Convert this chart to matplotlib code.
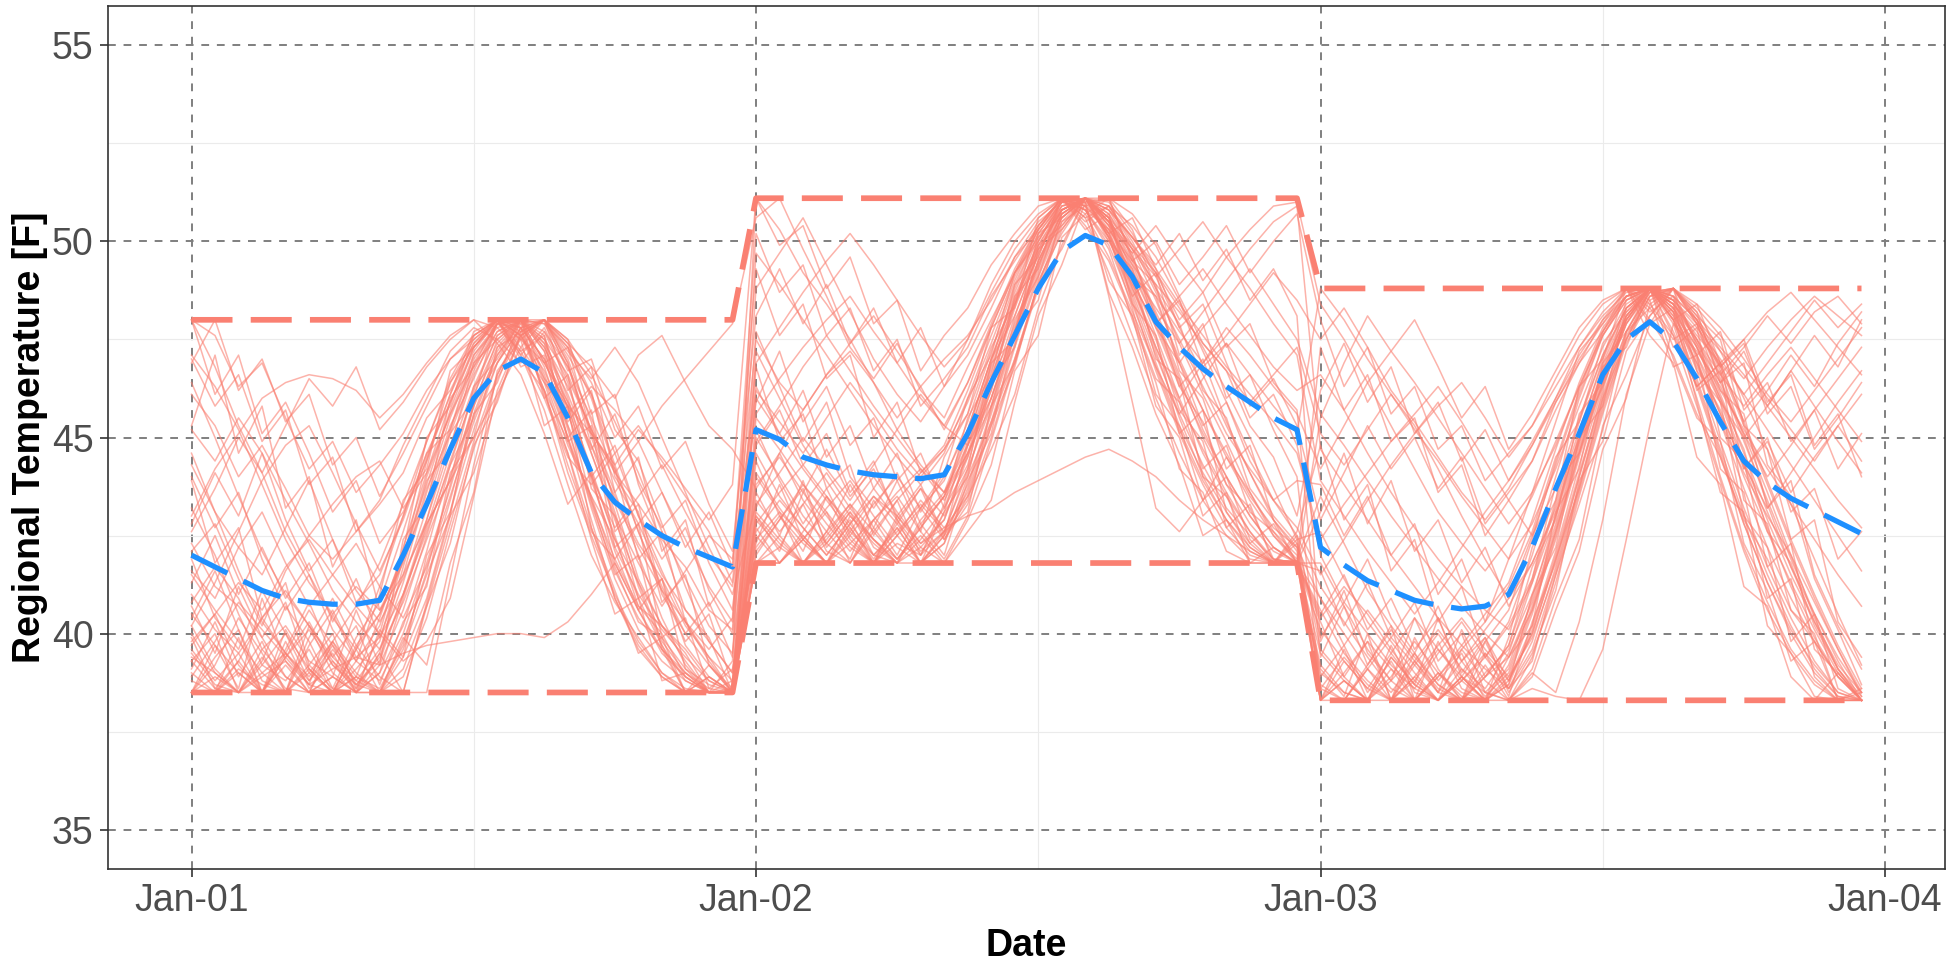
import matplotlib

matplotlib.use("Agg")
import matplotlib.pyplot as plt
import matplotlib.dates as mdates
from matplotlib.ticker import FixedLocator
import numpy as np
import pandas as pd

plt.rcParams["font.family"] = ["Liberation Sans", "DejaVu Sans"]

SALMON = "#FA8072"
BLUE = "#1E90FF"

# ---- hourly forecast window ------------------------------------------------
START = "2021-01-01 00:00"
N_HOURS = 72

# daily envelope of the ensemble (F)
DAY_MAX = [48.0, 51.1, 48.8]
DAY_MIN = [38.5, 41.8, 38.3]

# ensemble mean, hourly (F)
ENS_MEAN = [
    42.0, 41.7, 41.4, 41.1, 40.9, 40.8, 40.75, 40.75, 40.85, 42.0, 43.3, 44.7,
    46.0, 46.7, 47.0, 46.65, 45.5, 44.1, 43.35, 42.9, 42.5, 42.2, 41.95, 41.7,
    45.2, 44.95, 44.5, 44.3, 44.15, 44.05, 44.0, 43.95, 44.05, 45.1, 46.4, 47.6,
    48.8, 49.75, 50.15, 49.9, 49.1, 47.95, 47.3, 46.75, 46.3, 45.9, 45.5, 45.2,
    42.2, 41.75, 41.35, 41.1, 40.85, 40.72, 40.63, 40.7, 41.0, 42.2, 43.7, 45.1,
    46.6, 47.5, 47.95, 47.45, 46.5, 45.4, 44.4, 43.85, 43.45, 43.15, 42.85, 42.55,
]

# ensemble members, one 24-hour block per day
DAY1_MEMBERS = [
    [40.2, 39.1, 38.5, 39.6, 38.9, 38.5, 39.8, 38.7, 39.3, 41.0, 42.9, 44.8, 46.6, 47.7, 48.0, 47.2, 45.6, 44.0, 42.1, 40.6, 39.5, 38.9, 38.5, 38.5],
    [38.5, 39.4, 40.1, 38.8, 38.5, 39.2, 38.6, 39.9, 40.8, 42.6, 44.5, 46.1, 47.4, 48.0, 47.6, 46.2, 44.1, 42.5, 41.0, 39.8, 39.0, 38.6, 38.5, 38.8],
    [41.5, 40.6, 39.8, 39.0, 39.5, 38.7, 38.5, 38.9, 38.6, 39.7, 41.6, 43.8, 45.9, 47.3, 48.0, 47.9, 46.8, 45.1, 43.6, 42.0, 40.4, 39.2, 38.5, 38.5],
    [43.2, 42.0, 40.5, 39.2, 38.8, 39.6, 38.5, 39.1, 39.8, 41.9, 44.0, 45.6, 47.1, 47.9, 47.5, 46.9, 45.8, 43.9, 42.2, 41.0, 40.1, 39.4, 38.8, 38.5],
    [39.0, 38.5, 39.3, 40.4, 39.5, 38.8, 39.5, 38.5, 39.0, 40.2, 42.1, 44.3, 46.2, 47.6, 48.0, 46.5, 44.8, 43.5, 41.7, 40.3, 39.9, 39.1, 38.7, 38.5],
    [40.8, 41.7, 40.9, 39.6, 40.2, 39.3, 38.9, 38.5, 38.5, 39.4, 40.9, 43.1, 45.2, 46.9, 47.8, 48.0, 47.0, 45.4, 43.3, 41.4, 40.2, 39.3, 38.5, 38.5],
    [38.5, 38.9, 38.5, 39.2, 40.0, 39.1, 38.5, 39.6, 41.2, 43.0, 44.9, 46.5, 47.6, 48.0, 47.1, 45.7, 43.8, 42.0, 40.8, 39.9, 39.0, 38.5, 38.9, 38.5],
    [44.6, 43.1, 41.6, 40.3, 39.5, 38.9, 39.8, 39.0, 38.5, 39.1, 40.7, 42.8, 44.9, 46.6, 47.7, 48.0, 47.3, 46.0, 44.2, 42.6, 41.2, 40.0, 39.2, 38.6],
    [39.7, 40.5, 39.2, 38.5, 38.5, 39.7, 40.6, 39.4, 39.9, 41.5, 43.6, 45.5, 47.0, 47.9, 48.0, 47.4, 45.3, 43.2, 41.4, 40.1, 39.3, 38.8, 38.5, 38.5],
    [42.3, 41.2, 40.7, 39.9, 38.9, 38.5, 38.5, 39.3, 38.8, 40.0, 41.8, 43.7, 45.8, 47.5, 48.0, 47.7, 46.4, 44.6, 42.9, 41.3, 39.8, 39.0, 38.5, 38.6],
    [38.9, 39.8, 40.8, 40.1, 39.4, 40.3, 39.2, 38.6, 40.0, 42.2, 44.1, 45.9, 47.3, 48.0, 47.8, 47.0, 45.9, 44.8, 43.5, 42.3, 41.4, 40.2, 39.4, 38.8],
    [40.0, 39.0, 38.5, 38.5, 39.5, 40.6, 39.7, 38.9, 38.5, 39.6, 41.3, 43.4, 45.6, 47.2, 48.0, 47.6, 45.7, 43.4, 41.9, 40.7, 40.2, 39.5, 38.5, 38.5],
    [46.4, 45.0, 43.5, 42.1, 41.0, 40.2, 39.3, 38.7, 39.4, 41.0, 42.7, 44.6, 46.3, 47.6, 48.0, 47.5, 46.6, 45.2, 43.9, 42.8, 41.5, 40.6, 39.8, 39.0],
    [38.5, 38.5, 39.1, 38.7, 38.5, 39.0, 39.8, 40.7, 41.8, 43.3, 44.9, 46.4, 47.5, 48.0, 47.9, 46.8, 45.0, 42.9, 40.9, 39.6, 38.9, 38.5, 38.5, 38.5],
    [41.0, 40.1, 39.5, 40.4, 41.1, 40.2, 39.4, 38.8, 38.5, 38.9, 40.4, 42.6, 44.7, 46.5, 47.6, 48.0, 47.4, 46.1, 44.6, 43.0, 41.6, 40.3, 39.3, 38.5],
    [39.3, 38.6, 38.5, 39.4, 38.6, 38.5, 38.9, 38.5, 39.2, 40.6, 42.5, 44.4, 46.1, 47.4, 48.0, 47.3, 45.9, 44.2, 42.4, 40.9, 39.7, 38.8, 38.5, 38.5],
    [39.4, 39.0, 38.5, 38.9, 39.3, 38.7, 39.1, 39.4, 39.2, 39.5, 39.7, 39.8, 39.9, 40.0, 40.0, 39.9, 40.3, 41.0, 41.8, 40.6, 39.6, 39.0, 38.6, 38.5],
    [40.5, 39.7, 39.0, 38.5, 39.4, 40.1, 39.2, 38.7, 38.5, 38.5, 38.5, 41.4, 44.3, 46.6, 47.8, 47.0, 45.2, 43.3, 41.6, 40.4, 39.6, 38.9, 38.5, 38.5],
    [39.6, 38.8, 39.5, 38.5, 39.2, 38.5, 39.6, 38.8, 39.6, 41.3, 43.2, 45.2, 46.9, 47.9, 47.8, 46.4, 44.6, 42.7, 40.9, 39.7, 38.9, 38.5, 38.5, 38.5],
    [48.0, 47.6, 46.3, 46.9, 45.5, 44.2, 44.9, 43.6, 44.3, 45.1, 46.2, 47.0, 47.5, 48.0, 47.3, 46.4, 45.6, 46.3, 45.7, 44.9, 45.8, 46.5, 47.2, 47.9],
    [46.1, 45.3, 44.0, 44.8, 43.7, 42.5, 41.9, 42.6, 43.4, 44.8, 46.0, 47.2, 47.8, 47.5, 46.9, 47.7, 46.8, 45.5, 44.1, 43.3, 42.4, 41.7, 40.6, 40.1],
    [43.0, 44.2, 45.1, 46.0, 46.4, 46.6, 46.5, 46.2, 45.5, 46.1, 46.9, 47.6, 48.0, 47.8, 47.2, 46.0, 44.5, 43.8, 44.6, 45.3, 44.4, 43.5, 42.6, 41.3],
    [40.2, 41.3, 42.6, 43.9, 44.8, 45.3, 44.1, 42.8, 41.6, 42.9, 44.6, 45.9, 47.2, 48.0, 47.6, 46.7, 45.3, 44.0, 42.7, 43.5, 44.3, 43.1, 42.0, 41.2],
    [47.1, 46.3, 45.2, 43.8, 42.4, 41.3, 40.5, 41.2, 40.6, 41.5, 42.8, 43.9, 45.0, 46.1, 47.3, 48.0, 47.4, 46.8, 46.0, 47.1, 47.6, 46.4, 45.3, 44.7],
    [44.3, 43.1, 42.2, 41.5, 42.7, 43.9, 42.4, 41.1, 40.3, 41.4, 42.9, 45.1, 46.7, 47.9, 48.0, 46.9, 45.8, 45.1, 44.3, 45.2, 44.5, 43.7, 42.9, 43.8],
    [42.1, 42.8, 41.4, 40.2, 41.6, 42.5, 43.3, 44.0, 44.4, 43.2, 44.1, 45.6, 46.8, 47.7, 48.0, 47.3, 46.1, 44.6, 43.0, 41.8, 40.7, 41.6, 42.5, 41.9],
    [45.2, 44.4, 45.5, 44.6, 43.4, 42.3, 41.1, 40.3, 39.6, 40.8, 42.4, 44.0, 45.8, 47.1, 47.9, 48.0, 47.5, 46.6, 45.4, 44.1, 42.6, 41.4, 40.2, 39.5],
    [41.6, 40.9, 42.2, 43.1, 41.8, 40.7, 41.5, 42.3, 41.2, 40.4, 41.7, 43.5, 45.4, 46.9, 47.8, 48.0, 46.9, 45.0, 43.4, 42.2, 41.1, 40.3, 39.6, 40.4],
    [48.0, 46.8, 45.3, 44.1, 42.6, 41.5, 40.4, 39.6, 40.5, 42.0, 43.8, 45.7, 47.3, 48.0, 47.7, 46.2, 44.3, 42.6, 41.9, 42.8, 43.6, 42.4, 41.2, 40.3],
    [39.8, 40.5, 41.3, 40.6, 41.7, 42.4, 41.5, 40.7, 40.0, 39.3, 39.8, 40.9, 43.5, 46.2, 47.6, 48.0, 47.2, 46.5, 47.3, 46.4, 45.0, 43.6, 42.2, 41.0],
    [39.1, 40.3, 38.9, 39.8, 38.5, 40.2, 39.0, 38.5, 40.1, 39.4, 42.0, 43.1, 45.6, 46.4, 48.0, 46.9, 47.3, 45.1, 44.2, 41.9, 42.6, 40.3, 39.4, 38.5],
    [43.9, 41.8, 42.7, 40.4, 41.3, 39.2, 40.0, 38.6, 39.5, 38.5, 40.7, 42.3, 44.8, 45.9, 47.7, 48.0, 46.2, 46.8, 44.0, 43.1, 40.8, 41.5, 39.2, 38.5],
    [38.5, 39.7, 38.6, 40.9, 39.3, 38.5, 38.9, 40.6, 39.2, 42.4, 43.3, 46.0, 46.8, 48.0, 47.2, 47.6, 44.9, 45.3, 42.2, 42.8, 39.9, 40.4, 38.6, 39.1],
    [45.3, 47.1, 44.6, 45.8, 43.2, 44.0, 41.7, 42.9, 40.6, 41.8, 43.9, 44.7, 46.9, 47.5, 48.0, 47.2, 45.4, 46.2, 43.6, 44.5, 42.1, 42.9, 40.7, 41.6],
    [40.7, 39.5, 41.2, 39.9, 40.8, 39.1, 38.5, 39.6, 38.5, 39.9, 39.2, 41.8, 43.6, 46.7, 47.5, 48.0, 47.1, 46.1, 44.3, 42.6, 41.1, 39.8, 40.5, 38.7],
    [38.8, 38.5, 39.9, 38.5, 39.4, 38.7, 40.5, 39.3, 41.0, 43.4, 44.2, 46.7, 47.3, 47.9, 48.0, 46.0, 46.6, 43.7, 43.0, 40.9, 41.4, 39.1, 38.5, 38.5],
    [42.8, 44.1, 43.0, 44.6, 42.9, 41.6, 42.4, 40.8, 41.5, 43.0, 44.6, 45.2, 47.1, 47.8, 48.0, 47.4, 46.3, 44.7, 45.6, 43.9, 42.7, 43.4, 41.8, 40.6],
    [39.5, 38.7, 38.5, 39.3, 40.7, 39.8, 38.6, 38.5, 39.0, 40.9, 42.8, 43.9, 46.3, 47.0, 48.0, 48.0, 46.9, 44.8, 43.1, 41.2, 39.7, 38.5, 38.9, 38.5],
    [47.0, 45.8, 46.6, 44.9, 45.7, 43.8, 44.5, 42.6, 43.3, 44.1, 45.5, 46.2, 47.4, 48.0, 47.1, 47.8, 46.5, 45.2, 44.1, 44.9, 43.6, 42.2, 43.1, 41.7],
    [41.9, 40.4, 39.6, 41.1, 40.0, 38.8, 39.7, 38.5, 38.5, 39.8, 41.5, 43.0, 44.1, 46.0, 47.6, 48.0, 47.5, 45.6, 46.1, 43.8, 42.3, 40.6, 39.9, 38.5],
    [38.5, 39.2, 40.4, 39.5, 38.5, 39.1, 38.5, 38.9, 40.4, 42.1, 45.0, 45.8, 47.6, 48.0, 46.8, 47.1, 45.0, 43.4, 41.5, 42.0, 39.6, 38.5, 39.2, 38.5],
    [44.0, 42.7, 43.6, 41.9, 40.6, 41.5, 40.1, 39.3, 40.2, 41.9, 43.4, 45.3, 46.5, 47.9, 48.0, 46.6, 45.0, 45.7, 42.6, 43.3, 41.0, 40.0, 40.8, 39.4],
    [40.4, 41.6, 40.1, 38.5, 39.6, 40.8, 39.4, 40.2, 38.7, 40.3, 41.2, 44.1, 45.0, 47.3, 47.7, 48.0, 46.7, 47.0, 45.2, 44.4, 42.8, 41.2, 39.8, 39.0],
    [46.9, 48.0, 46.2, 47.0, 45.4, 46.1, 44.3, 45.0, 43.5, 44.6, 45.8, 47.0, 47.6, 48.0, 47.0, 46.2, 44.9, 43.5, 42.4, 41.3, 40.2, 39.6, 38.8, 38.5],
    [39.9, 38.6, 39.3, 38.5, 40.1, 39.0, 38.5, 39.7, 38.9, 38.5, 40.8, 43.0, 45.9, 46.9, 48.0, 47.5, 46.0, 44.1, 42.5, 40.7, 40.0, 38.9, 38.5, 39.3],
    [42.6, 43.7, 45.0, 44.1, 45.3, 46.5, 45.8, 46.8, 45.2, 45.9, 46.8, 47.5, 48.0, 47.4, 46.6, 45.1, 43.3, 44.1, 41.8, 40.6, 41.4, 39.7, 38.9, 38.5],
    [38.5, 38.5, 39.0, 38.5, 39.8, 38.6, 39.3, 38.5, 39.5, 41.7, 43.7, 45.1, 46.0, 48.0, 47.5, 45.3, 45.8, 42.7, 41.1, 39.5, 39.9, 38.5, 38.5, 38.5],
    [41.3, 42.5, 41.0, 42.2, 40.9, 41.8, 40.3, 41.4, 39.9, 41.0, 42.6, 44.3, 45.5, 47.1, 48.0, 47.9, 47.3, 46.4, 45.0, 45.8, 44.2, 44.9, 43.3, 42.1],
    [39.3, 40.0, 38.5, 39.0, 38.5, 39.9, 40.9, 39.7, 40.5, 41.9, 44.4, 46.1, 47.7, 48.0, 47.8, 46.1, 44.6, 42.4, 40.5, 40.9, 38.8, 39.0, 38.5, 38.5],
    [48.0, 46.1, 47.1, 45.1, 45.9, 44.6, 43.1, 43.9, 42.3, 43.1, 44.4, 46.4, 47.3, 48.0, 47.6, 46.5, 45.8, 44.0, 44.8, 43.0, 41.9, 42.7, 41.1, 40.0],
]

DAY2_MEMBERS = [
    [43.1, 42.4, 41.8, 42.6, 43.3, 42.2, 41.8, 42.9, 43.6, 45.2, 47.0, 48.6, 49.9, 50.8, 51.1, 50.3, 48.7, 47.1, 45.6, 44.3, 43.2, 42.5, 41.9, 41.8],
    [44.6, 43.5, 42.7, 42.0, 42.8, 43.7, 42.9, 42.1, 42.6, 44.1, 46.0, 47.9, 49.5, 50.7, 51.1, 50.6, 49.4, 48.0, 46.5, 45.0, 43.8, 42.8, 42.1, 41.8],
    [42.0, 42.9, 43.8, 43.1, 42.3, 41.8, 42.5, 43.4, 42.7, 43.5, 45.3, 47.3, 49.1, 50.5, 51.1, 50.9, 50.0, 48.8, 47.4, 46.1, 44.9, 43.6, 42.6, 42.0],
    [46.3, 45.1, 44.2, 43.4, 42.6, 42.0, 41.8, 42.4, 43.2, 44.8, 46.7, 48.5, 50.0, 51.0, 50.8, 49.9, 48.4, 46.8, 45.2, 43.9, 42.9, 42.2, 41.8, 41.8],
    [42.5, 41.8, 42.4, 43.2, 43.9, 43.0, 42.2, 41.8, 42.3, 43.7, 45.6, 47.6, 49.3, 50.6, 51.1, 50.7, 49.6, 48.2, 46.9, 45.7, 44.6, 43.5, 42.7, 42.2],
    [43.8, 44.5, 43.6, 42.8, 42.1, 42.9, 43.5, 42.6, 41.9, 43.0, 44.9, 46.9, 48.8, 50.3, 51.1, 51.0, 50.2, 49.1, 47.8, 46.6, 45.3, 44.1, 43.0, 42.3],
    [45.0, 44.0, 43.0, 42.3, 41.8, 42.6, 43.4, 44.1, 44.8, 46.2, 47.8, 49.2, 50.3, 51.1, 50.6, 49.2, 47.6, 46.0, 44.6, 43.4, 42.5, 41.9, 41.8, 42.4],
    [42.8, 43.6, 44.3, 43.5, 42.7, 41.9, 42.8, 43.7, 43.0, 44.2, 45.8, 47.7, 49.4, 50.7, 51.1, 50.4, 48.9, 47.3, 45.9, 44.7, 43.6, 42.6, 41.8, 41.8],
    [41.8, 42.5, 41.8, 42.3, 43.1, 42.4, 41.8, 42.2, 42.9, 44.6, 46.5, 48.4, 49.9, 50.9, 51.1, 50.5, 49.0, 47.2, 45.5, 44.0, 42.9, 42.1, 41.8, 41.8],
    [44.1, 43.2, 42.4, 41.8, 42.5, 43.3, 44.0, 43.2, 42.4, 43.3, 45.0, 47.0, 48.9, 50.4, 51.1, 50.8, 49.8, 48.5, 47.0, 45.7, 44.5, 43.4, 42.5, 41.9],
    [47.2, 46.0, 44.8, 43.9, 43.0, 42.4, 41.9, 42.7, 43.5, 45.0, 46.8, 48.5, 49.8, 50.8, 51.1, 50.5, 49.3, 47.9, 46.4, 45.1, 44.0, 43.0, 42.2, 41.8],
    [43.4, 42.6, 43.3, 44.1, 43.2, 42.4, 41.8, 41.8, 42.5, 43.8, 45.7, 47.7, 49.5, 50.8, 51.1, 50.2, 48.6, 46.9, 45.3, 44.1, 43.1, 42.3, 41.8, 41.8],
    [42.2, 43.0, 42.3, 41.8, 42.6, 43.5, 42.8, 42.0, 43.1, 44.9, 46.9, 48.8, 50.2, 51.0, 51.1, 50.1, 48.5, 46.7, 45.1, 43.8, 42.7, 42.0, 41.8, 42.5],
    [45.5, 44.7, 43.8, 43.0, 42.2, 41.8, 42.5, 43.2, 43.9, 45.4, 47.2, 48.9, 50.2, 51.0, 51.1, 50.4, 49.1, 47.6, 46.0, 44.6, 43.5, 42.6, 41.9, 41.8],
    [42.6, 43.4, 42.7, 42.0, 42.8, 43.5, 43.0, 42.3, 42.7, 43.0, 43.2, 43.6, 43.9, 44.2, 44.5, 44.7, 44.4, 44.0, 43.4, 42.9, 42.5, 42.1, 41.8, 41.8],
    [43.0, 42.3, 41.8, 42.5, 43.3, 42.6, 41.9, 42.7, 43.5, 45.1, 47.0, 48.7, 50.1, 50.9, 51.0, 48.6, 45.9, 43.2, 42.6, 43.4, 44.5, 43.6, 42.5, 41.8],
    [44.0, 43.1, 42.5, 41.8, 42.3, 42.9, 43.6, 44.2, 43.4, 44.5, 46.2, 48.1, 49.7, 50.8, 51.1, 50.8, 50.1, 49.2, 48.3, 47.3, 46.2, 45.0, 43.7, 42.4],
    [41.8, 41.8, 42.6, 43.5, 42.8, 42.0, 42.6, 43.3, 42.6, 43.6, 45.4, 47.4, 49.2, 50.6, 51.1, 50.9, 50.4, 49.6, 48.5, 47.2, 45.9, 44.6, 43.4, 42.5],
    [42.9, 42.2, 41.8, 42.4, 43.2, 44.0, 43.1, 42.3, 42.9, 44.5, 46.4, 48.3, 49.8, 50.8, 51.1, 50.6, 49.5, 48.1, 46.6, 45.2, 44.0, 43.0, 42.2, 41.8],
    [50.6, 51.1, 49.8, 48.6, 47.3, 46.5, 47.4, 46.2, 45.5, 46.8, 48.0, 49.2, 50.1, 50.8, 51.1, 50.5, 49.7, 50.4, 49.5, 48.7, 49.6, 50.3, 50.9, 51.0],
    [48.8, 49.7, 50.6, 49.4, 48.2, 47.0, 46.1, 45.4, 46.3, 47.5, 48.9, 50.0, 50.7, 51.1, 50.8, 50.0, 48.9, 47.9, 48.6, 49.3, 48.4, 47.6, 46.8, 46.2],
    [47.5, 46.4, 45.7, 46.6, 47.4, 48.1, 47.2, 46.3, 45.2, 46.4, 47.9, 49.3, 50.4, 51.1, 50.9, 50.3, 49.4, 48.6, 47.7, 46.9, 47.6, 48.4, 49.2, 48.5],
    [45.6, 46.5, 47.3, 48.0, 48.6, 47.7, 46.9, 46.0, 45.3, 44.8, 46.0, 47.8, 49.5, 50.7, 51.1, 50.7, 49.8, 48.9, 48.2, 47.4, 46.7, 45.9, 46.6, 47.3],
    [43.7, 44.6, 45.7, 46.6, 47.2, 46.4, 45.5, 46.3, 47.0, 47.6, 48.5, 49.6, 50.5, 51.0, 51.1, 50.2, 48.8, 47.3, 46.0, 46.9, 47.8, 47.1, 46.3, 45.6],
    [51.1, 50.3, 49.2, 48.4, 47.5, 46.4, 45.2, 44.3, 43.6, 44.8, 46.5, 48.4, 50.0, 51.0, 51.1, 50.8, 50.1, 49.3, 48.4, 47.6, 46.8, 46.1, 45.4, 44.6],
    [46.2, 45.4, 44.6, 45.5, 46.4, 45.6, 44.7, 44.0, 44.7, 45.9, 47.4, 49.0, 50.3, 51.1, 50.9, 50.2, 49.0, 47.8, 46.9, 47.8, 48.5, 49.3, 48.4, 47.5],
    [44.9, 45.8, 46.8, 47.6, 46.7, 45.8, 45.0, 44.2, 43.6, 44.6, 46.0, 47.7, 49.4, 50.6, 51.1, 50.5, 49.8, 49.1, 49.8, 50.5, 49.6, 48.8, 47.9, 47.1],
    [49.7, 48.9, 48.0, 47.1, 46.2, 45.3, 44.5, 43.8, 44.6, 46.0, 47.6, 49.1, 50.3, 51.0, 51.1, 50.6, 49.9, 48.7, 47.5, 46.3, 45.1, 44.2, 43.4, 42.7],
    [46.9, 47.8, 48.7, 49.5, 50.2, 49.4, 48.5, 47.6, 46.8, 47.5, 48.7, 49.8, 50.6, 51.1, 50.7, 49.6, 48.2, 46.8, 45.6, 46.5, 47.4, 46.6, 45.8, 45.1],
    [43.3, 44.1, 45.0, 44.2, 43.4, 44.3, 45.2, 46.1, 45.3, 46.4, 47.8, 49.2, 50.4, 51.1, 51.0, 50.1, 49.2, 48.3, 47.4, 48.2, 49.0, 49.8, 50.5, 50.9],
    [43.6, 42.5, 43.9, 42.2, 42.9, 41.8, 42.7, 41.8, 43.1, 44.0, 46.4, 47.3, 49.8, 50.3, 51.1, 50.0, 49.3, 47.0, 46.5, 44.0, 43.5, 42.3, 42.8, 41.8],
    [46.8, 44.9, 45.6, 43.7, 44.3, 42.5, 43.4, 42.0, 42.6, 43.1, 45.8, 46.9, 48.9, 50.5, 50.9, 51.1, 49.5, 48.9, 46.7, 46.0, 44.2, 44.8, 42.9, 42.1],
    [42.3, 43.8, 42.4, 43.1, 41.8, 42.7, 43.9, 42.6, 44.5, 45.6, 47.8, 48.3, 50.6, 51.1, 50.3, 50.7, 48.4, 47.6, 45.1, 45.7, 43.1, 42.2, 41.8, 42.6],
    [49.3, 47.6, 48.4, 46.5, 47.1, 45.0, 45.9, 44.1, 44.7, 45.6, 47.3, 48.4, 49.6, 51.1, 50.5, 50.9, 49.9, 49.2, 48.0, 48.7, 47.3, 47.9, 46.4, 45.7],
    [44.4, 43.0, 42.1, 43.5, 42.4, 41.8, 43.0, 42.2, 41.8, 42.9, 44.3, 46.7, 47.6, 50.1, 50.7, 51.1, 50.3, 48.8, 47.9, 46.2, 45.5, 43.7, 42.9, 41.8],
    [41.8, 42.2, 43.3, 42.1, 41.8, 42.9, 42.0, 43.2, 44.1, 46.0, 47.1, 49.2, 50.0, 51.1, 50.9, 49.0, 48.1, 45.8, 45.0, 43.0, 43.6, 41.8, 42.2, 41.8],
    [45.9, 47.2, 45.4, 46.3, 44.8, 45.5, 43.9, 44.6, 43.2, 44.3, 46.5, 47.7, 49.9, 50.4, 51.1, 50.1, 48.6, 49.2, 47.1, 47.9, 46.0, 46.6, 45.2, 44.0],
    [42.7, 41.8, 42.5, 41.8, 43.0, 42.3, 41.8, 42.8, 42.0, 43.9, 45.1, 47.7, 48.5, 50.7, 51.1, 50.6, 48.8, 47.5, 45.7, 44.9, 42.7, 43.3, 41.8, 41.8],
    [50.2, 48.7, 49.4, 47.6, 48.3, 46.7, 47.5, 45.8, 46.5, 47.3, 48.6, 49.5, 50.4, 51.1, 50.6, 50.9, 50.1, 49.4, 50.2, 49.0, 49.8, 48.5, 49.3, 48.1],
    [43.2, 44.6, 43.4, 42.6, 43.8, 42.7, 41.9, 42.5, 41.8, 42.6, 43.4, 45.9, 48.1, 49.4, 51.0, 51.1, 50.7, 49.9, 48.6, 47.4, 46.7, 45.3, 44.5, 43.0],
    [41.8, 41.8, 42.4, 41.8, 42.7, 41.8, 42.3, 42.0, 43.3, 45.5, 46.6, 48.9, 49.6, 51.1, 50.8, 49.8, 48.0, 46.4, 44.2, 43.6, 42.1, 41.8, 41.8, 42.3],
    [47.7, 46.3, 44.9, 45.9, 44.0, 43.2, 44.1, 42.8, 43.5, 44.6, 45.8, 48.0, 49.1, 50.8, 51.1, 50.2, 50.6, 49.3, 47.8, 48.4, 46.9, 45.5, 46.1, 44.8],
    [44.8, 45.7, 44.3, 45.1, 43.6, 44.4, 42.9, 43.7, 42.4, 43.5, 44.7, 46.1, 48.3, 49.9, 51.1, 50.4, 49.7, 47.8, 46.3, 47.0, 45.4, 44.1, 42.9, 42.2],
    [42.4, 43.1, 41.8, 42.6, 41.9, 43.4, 42.5, 41.8, 42.5, 44.8, 46.2, 48.6, 49.3, 51.1, 51.0, 48.7, 47.3, 45.6, 44.3, 42.5, 42.9, 41.8, 41.8, 41.8],
    [51.1, 49.9, 50.4, 48.8, 49.6, 47.9, 48.5, 46.7, 47.6, 48.3, 49.4, 50.2, 50.9, 51.1, 50.4, 49.5, 48.1, 46.5, 45.9, 44.2, 44.8, 43.1, 42.6, 41.8],
    [43.0, 42.1, 43.6, 44.7, 43.5, 44.2, 43.0, 43.8, 42.5, 43.4, 45.3, 46.8, 49.0, 50.2, 51.1, 50.5, 49.1, 48.6, 46.9, 45.3, 45.9, 44.4, 43.4, 43.9],
    [45.2, 43.9, 42.8, 43.7, 42.5, 41.8, 42.9, 41.8, 42.3, 44.0, 45.4, 47.0, 48.9, 49.8, 51.1, 51.1, 49.6, 48.1, 46.3, 45.4, 43.8, 43.2, 41.9, 41.8],
    [48.1, 49.3, 47.9, 48.9, 47.4, 48.3, 46.9, 47.8, 46.3, 47.1, 48.3, 49.6, 50.3, 51.1, 50.8, 50.3, 49.5, 50.0, 48.9, 49.6, 50.4, 49.2, 50.0, 50.7],
    [42.1, 42.9, 43.7, 42.3, 43.1, 42.0, 42.7, 41.8, 42.6, 44.2, 46.9, 47.5, 50.2, 50.6, 51.1, 50.1, 48.3, 46.1, 45.3, 43.4, 44.0, 42.4, 41.8, 41.8],
    [46.0, 45.1, 46.2, 44.5, 45.3, 43.7, 44.6, 43.1, 44.0, 45.2, 47.0, 48.1, 49.7, 50.9, 51.1, 50.6, 49.2, 47.9, 48.5, 46.8, 47.4, 45.8, 46.5, 45.3],
]

DAY3_MEMBERS = [
    [39.2, 38.5, 38.3, 39.4, 38.7, 38.3, 39.1, 38.6, 39.5, 41.3, 43.3, 45.2, 46.9, 48.2, 48.8, 48.0, 46.3, 44.5, 42.8, 41.3, 40.1, 39.2, 38.5, 38.3],
    [40.6, 39.5, 38.8, 38.3, 39.2, 40.0, 39.1, 38.4, 39.0, 40.6, 42.6, 44.7, 46.6, 48.0, 48.8, 48.4, 47.0, 45.4, 43.7, 42.2, 40.9, 39.8, 38.9, 38.3],
    [38.3, 39.0, 39.8, 39.1, 38.3, 38.9, 39.7, 40.5, 41.3, 42.9, 44.7, 46.4, 47.8, 48.6, 48.8, 47.6, 45.8, 43.9, 42.1, 40.6, 39.5, 38.7, 38.3, 38.3],
    [41.8, 40.7, 39.6, 38.8, 38.3, 38.9, 39.6, 38.8, 38.3, 39.4, 41.3, 43.5, 45.6, 47.4, 48.5, 48.8, 47.9, 46.5, 44.9, 43.4, 41.9, 40.5, 39.3, 38.3],
    [38.7, 38.3, 39.2, 40.1, 39.3, 38.5, 38.3, 39.0, 39.6, 41.0, 42.8, 44.9, 46.8, 48.1, 48.8, 48.3, 47.1, 45.6, 44.0, 42.6, 41.3, 40.1, 39.0, 38.3],
    [39.9, 40.8, 40.0, 39.2, 38.6, 39.5, 40.3, 39.4, 38.6, 39.8, 41.7, 43.8, 45.9, 47.6, 48.6, 48.8, 48.1, 46.9, 45.4, 43.9, 42.4, 41.0, 39.7, 38.6],
    [42.6, 41.4, 40.3, 39.5, 38.7, 38.3, 38.9, 39.8, 40.6, 42.4, 44.4, 46.2, 47.7, 48.6, 48.8, 47.9, 46.0, 44.0, 42.2, 40.8, 39.6, 38.8, 38.3, 38.3],
    [38.3, 38.8, 38.3, 38.9, 39.8, 39.0, 38.4, 38.3, 39.2, 40.9, 43.0, 45.1, 47.0, 48.3, 48.8, 48.2, 46.7, 44.9, 43.2, 41.7, 40.4, 39.3, 38.5, 38.3],
    [40.1, 39.3, 38.6, 39.5, 40.4, 39.6, 38.8, 38.3, 38.8, 40.2, 42.1, 44.3, 46.3, 47.9, 48.8, 48.6, 47.5, 46.1, 44.6, 43.1, 41.7, 40.5, 39.4, 38.5],
    [43.5, 42.3, 41.1, 40.2, 39.4, 38.7, 38.3, 38.9, 39.7, 41.4, 43.4, 45.4, 47.1, 48.3, 48.8, 48.1, 46.5, 44.7, 43.0, 41.5, 40.2, 39.1, 38.4, 38.3],
    [38.9, 39.7, 40.6, 39.8, 39.0, 38.3, 38.8, 39.5, 38.8, 40.0, 41.9, 44.0, 46.0, 47.7, 48.7, 48.8, 48.2, 47.2, 46.0, 44.7, 43.3, 41.9, 40.5, 39.2],
    [39.5, 38.8, 38.3, 38.3, 38.9, 39.7, 40.4, 39.6, 38.9, 39.9, 41.6, 43.7, 45.8, 47.5, 48.6, 48.8, 48.0, 46.7, 45.0, 43.3, 41.7, 40.3, 39.1, 38.3],
    [41.2, 40.3, 39.4, 38.6, 38.3, 39.0, 38.5, 38.3, 38.9, 40.5, 42.5, 44.6, 46.5, 48.0, 48.8, 48.5, 47.4, 46.0, 44.4, 42.9, 41.5, 40.3, 39.2, 38.5],
    [38.3, 38.3, 39.1, 39.9, 39.2, 38.5, 39.3, 40.1, 40.9, 42.5, 44.3, 46.1, 47.6, 48.5, 48.8, 48.0, 46.4, 44.6, 42.8, 41.3, 40.0, 39.0, 38.4, 38.3],
    [39.0, 38.5, 38.3, 39.1, 38.6, 38.3, 38.9, 38.5, 38.3, 38.6, 38.4, 38.3, 39.6, 42.4, 45.3, 47.9, 47.2, 46.3, 45.1, 43.6, 42.0, 40.4, 39.1, 38.3],
    [40.4, 41.2, 40.5, 39.6, 38.8, 38.3, 38.8, 39.4, 40.3, 42.0, 44.0, 46.0, 47.6, 48.6, 48.8, 48.3, 47.3, 45.9, 44.3, 42.7, 41.2, 39.9, 38.9, 38.3],
    [38.6, 39.4, 38.7, 38.3, 38.8, 39.6, 38.9, 38.3, 38.7, 40.1, 42.0, 44.1, 46.1, 47.7, 48.7, 48.8, 48.4, 47.8, 47.0, 46.1, 45.4, 46.2, 47.0, 47.8],
    [39.6, 38.9, 38.3, 38.8, 39.5, 38.7, 38.3, 38.9, 39.4, 40.8, 42.7, 44.8, 46.7, 48.1, 48.8, 48.4, 47.5, 46.4, 45.1, 44.0, 44.8, 45.7, 46.5, 47.3],
    [40.9, 40.0, 39.1, 38.5, 39.3, 40.1, 39.3, 38.5, 39.1, 40.7, 42.6, 44.6, 46.4, 47.9, 48.7, 48.8, 48.0, 46.8, 45.3, 43.8, 42.3, 40.9, 39.6, 38.4],
    [48.4, 47.5, 46.4, 45.3, 44.2, 43.1, 42.3, 41.6, 42.4, 43.5, 44.9, 46.3, 47.6, 48.5, 48.8, 48.4, 47.7, 46.8, 47.5, 48.2, 48.7, 48.0, 47.3, 46.6],
    [46.6, 45.7, 44.6, 43.6, 42.7, 41.9, 41.2, 40.6, 40.1, 41.3, 43.0, 44.9, 46.6, 48.0, 48.8, 48.4, 47.6, 46.9, 46.1, 46.9, 47.7, 48.5, 47.8, 48.4],
    [47.5, 48.3, 47.3, 46.2, 45.4, 44.5, 43.6, 42.9, 43.7, 44.8, 46.0, 47.1, 48.0, 48.6, 48.8, 48.1, 47.1, 45.9, 45.0, 45.8, 46.7, 45.8, 44.9, 44.1],
    [45.1, 44.3, 45.2, 46.1, 45.3, 44.2, 43.0, 41.9, 40.9, 41.8, 43.2, 45.0, 46.7, 48.1, 48.8, 48.2, 46.9, 45.4, 44.1, 43.0, 42.0, 40.8, 39.6, 38.5],
    [44.2, 45.3, 46.4, 47.2, 46.4, 45.5, 44.6, 43.7, 42.8, 43.6, 44.8, 46.3, 47.7, 48.6, 48.8, 48.0, 46.9, 45.6, 44.3, 43.2, 44.1, 45.0, 45.9, 46.7],
    [42.4, 43.3, 44.1, 44.9, 45.6, 46.3, 45.4, 44.4, 43.4, 42.5, 43.7, 45.5, 47.1, 48.3, 48.8, 48.5, 47.8, 47.0, 46.1, 45.2, 44.3, 43.4, 42.5, 41.6],
    [45.6, 44.8, 43.9, 43.0, 42.2, 41.4, 40.7, 40.0, 39.4, 40.6, 42.4, 44.5, 46.4, 47.9, 48.8, 48.6, 48.0, 47.3, 46.6, 45.8, 45.0, 44.2, 43.4, 42.7],
    [43.9, 43.0, 42.1, 41.3, 40.5, 41.3, 42.2, 43.1, 43.9, 44.8, 45.9, 47.0, 47.9, 48.6, 48.8, 48.5, 47.9, 47.2, 46.5, 47.3, 48.0, 48.6, 48.1, 47.6],
    [41.5, 42.4, 43.4, 44.3, 45.1, 45.8, 46.4, 45.5, 44.5, 45.3, 46.3, 47.3, 48.1, 48.7, 48.8, 48.2, 47.3, 46.2, 45.2, 44.2, 43.3, 42.4, 41.5, 40.7],
    [48.8, 48.0, 47.0, 46.1, 45.2, 44.4, 43.5, 42.7, 41.9, 42.8, 44.2, 45.8, 47.3, 48.4, 48.8, 48.3, 47.5, 46.6, 45.8, 46.6, 47.3, 46.5, 45.7, 44.9],
    [44.7, 43.8, 42.9, 42.0, 41.2, 40.4, 39.7, 39.1, 38.6, 39.6, 41.5, 43.6, 45.7, 47.5, 48.6, 48.8, 48.3, 47.6, 46.8, 46.0, 45.2, 44.4, 45.3, 46.1],
    [40.3, 38.9, 39.8, 38.3, 39.5, 38.5, 40.1, 38.9, 39.7, 41.7, 42.9, 45.6, 46.4, 48.5, 48.8, 47.3, 47.8, 45.0, 44.4, 41.7, 42.3, 39.6, 39.0, 38.3],
    [38.3, 39.6, 38.3, 39.4, 38.7, 40.4, 38.9, 38.3, 39.4, 40.2, 43.1, 44.2, 46.9, 47.7, 48.8, 48.4, 46.2, 46.7, 43.4, 42.8, 40.6, 40.0, 38.3, 38.5],
    [44.8, 42.9, 43.8, 41.6, 42.4, 40.3, 41.2, 39.4, 40.2, 41.4, 43.8, 44.6, 46.8, 47.3, 48.8, 48.0, 48.4, 46.9, 47.5, 45.9, 46.6, 44.8, 45.6, 44.0],
    [39.4, 40.7, 39.2, 40.2, 38.3, 39.0, 38.3, 39.8, 38.6, 39.3, 41.5, 43.3, 45.2, 47.7, 48.3, 48.8, 46.7, 45.9, 43.0, 42.2, 39.8, 40.5, 38.6, 38.3],
    [47.3, 45.7, 46.6, 44.9, 45.5, 43.6, 44.3, 42.5, 43.4, 44.4, 45.7, 46.9, 47.7, 48.8, 48.2, 48.6, 47.4, 46.4, 47.2, 45.8, 46.7, 47.6, 46.8, 48.0],
    [41.6, 40.2, 41.3, 39.9, 40.8, 39.3, 40.0, 38.5, 38.3, 39.1, 40.9, 42.4, 45.3, 46.6, 48.1, 48.8, 47.9, 46.2, 45.6, 43.2, 43.9, 41.5, 40.2, 39.1],
    [38.6, 38.3, 39.1, 38.3, 38.9, 38.3, 39.6, 40.3, 41.9, 43.6, 45.4, 47.2, 47.9, 48.8, 47.6, 46.9, 44.5, 43.8, 41.2, 40.7, 38.9, 38.3, 39.0, 38.3],
    [43.1, 44.6, 42.8, 43.9, 42.1, 42.9, 41.3, 42.2, 40.7, 41.8, 43.1, 45.0, 46.3, 48.0, 48.8, 48.5, 47.1, 47.7, 45.7, 46.4, 44.9, 45.7, 44.2, 45.1],
    [39.8, 41.1, 39.5, 38.8, 40.4, 39.1, 38.3, 39.2, 38.3, 38.9, 40.6, 42.1, 44.7, 46.0, 48.4, 48.8, 48.2, 46.4, 46.9, 44.3, 43.5, 41.4, 40.1, 38.7],
    [46.2, 47.4, 45.9, 46.8, 45.1, 45.9, 44.4, 45.2, 43.9, 44.9, 46.0, 47.3, 48.2, 48.8, 48.0, 47.1, 45.6, 44.5, 42.9, 41.9, 40.6, 39.8, 38.9, 38.3],
    [38.3, 38.8, 38.3, 39.7, 38.5, 38.3, 38.9, 38.3, 39.9, 42.2, 43.4, 46.3, 47.0, 48.8, 48.5, 46.8, 47.1, 44.2, 43.6, 40.9, 41.4, 38.9, 38.3, 38.3],
    [42.0, 40.8, 41.9, 40.4, 39.5, 40.7, 39.3, 39.9, 38.8, 40.0, 41.9, 43.7, 46.0, 47.5, 48.8, 48.6, 48.0, 46.8, 47.4, 45.6, 46.3, 44.7, 45.5, 46.4],
    [40.9, 39.7, 38.5, 39.3, 38.3, 39.8, 38.6, 38.3, 38.3, 39.0, 38.5, 40.3, 42.9, 46.1, 47.9, 48.8, 48.1, 47.5, 45.3, 44.7, 42.4, 42.9, 40.3, 39.4],
    [45.5, 46.9, 48.1, 47.2, 48.0, 46.8, 45.5, 46.3, 44.7, 45.6, 46.7, 47.8, 48.5, 48.8, 48.3, 47.5, 47.9, 46.6, 47.3, 48.1, 47.4, 48.2, 48.6, 47.9],
    [39.1, 38.4, 40.0, 38.3, 39.3, 38.6, 38.3, 39.5, 38.4, 40.3, 41.8, 44.0, 46.2, 48.1, 48.8, 48.2, 45.9, 43.6, 43.1, 40.2, 39.5, 38.4, 38.3, 38.6],
    [43.8, 42.5, 43.5, 42.0, 42.8, 41.0, 41.9, 40.3, 41.2, 42.6, 44.5, 45.4, 47.4, 48.2, 48.8, 47.7, 46.3, 46.9, 44.2, 45.0, 43.1, 43.7, 41.9, 42.6],
    [38.3, 39.3, 38.6, 38.3, 39.9, 38.8, 39.5, 38.3, 38.7, 41.0, 42.2, 45.0, 45.8, 48.3, 48.8, 47.0, 45.5, 44.9, 42.3, 41.1, 39.3, 39.8, 38.3, 38.3],
    [48.0, 46.3, 47.3, 45.6, 46.3, 44.7, 45.3, 43.9, 44.6, 45.3, 46.5, 47.6, 48.4, 48.8, 47.9, 48.3, 46.8, 45.7, 44.2, 44.9, 43.6, 44.5, 45.3, 44.4],
    [40.5, 41.5, 40.1, 40.9, 39.6, 40.4, 39.0, 39.9, 38.5, 39.5, 41.1, 43.9, 44.9, 47.2, 48.1, 48.8, 47.3, 46.0, 44.7, 42.6, 41.8, 40.2, 39.1, 38.4],
    [42.9, 44.1, 45.3, 44.2, 45.0, 43.7, 44.5, 42.8, 43.6, 44.4, 45.9, 46.9, 48.0, 48.8, 48.4, 47.6, 46.3, 46.9, 45.4, 46.2, 47.1, 46.3, 47.4, 48.2],
]


def main():
    times = pd.date_range(START, periods=N_HOURS, freq="h")
    x = mdates.date2num(times)
    span = x[-1] - x[0]

    fig = plt.figure(figsize=(19.59, 9.67), dpi=100)
    ax = fig.add_axes([108 / 1959, 1 - 869 / 967, 1837 / 1959, 863 / 967])

    # individual members
    for d1, d2, d3 in zip(DAY1_MEMBERS, DAY2_MEMBERS, DAY3_MEMBERS):
        ax.plot(x, d1 + d2 + d3, color=SALMON, lw=1.1, alpha=0.6, zorder=2)

    # daily envelope, held constant through each day
    hourly_max = np.repeat(DAY_MAX, 24)
    hourly_min = np.repeat(DAY_MIN, 24)
    for env in (hourly_max, hourly_min):
        ax.plot(x, env, color=SALMON, lw=4.1, dashes=(7.2, 3.2),
                dash_capstyle="butt", zorder=3)

    ax.plot(x, ENS_MEAN, color=BLUE, lw=3.8, dashes=(7.6, 3.4),
            dash_capstyle="butt", zorder=4)

    # axes, ggplot-ish bw theme
    ax.set_xlim(x[0] - 0.05 * span, x[-1] + 0.05 * span)
    ax.set_ylim(34, 56)
    ax.xaxis.set_major_locator(mdates.DayLocator())
    ax.xaxis.set_major_formatter(mdates.DateFormatter("%b-%d"))
    ax.xaxis.set_minor_locator(mdates.HourLocator(byhour=[12]))
    ax.set_yticks([35, 40, 45, 50, 55])
    ax.yaxis.set_minor_locator(FixedLocator([37.5, 42.5, 47.5, 52.5]))

    ax.set_axisbelow(True)
    ax.grid(which="minor", color="#EBEBEB", lw=0.8, ls="-")
    ax.grid(which="major", color="#7F7F7F", lw=1.4, ls=(0, (4, 4)))

    ax.tick_params(which="major", length=5.8, width=1.2, color="#333333",
                   labelsize=27, labelcolor="#4D4D4D", pad=4.5)
    ax.tick_params(which="minor", length=0)
    for side in ax.spines.values():
        side.set_color("#333333")
        side.set_linewidth(1.2)

    ax.set_xlabel("Date", fontsize=27, fontweight="bold", color="black")
    ax.set_ylabel("Regional Temperature [F]", fontsize=27, fontweight="bold",
                  color="black")
    ax.xaxis.set_label_coords(0.5, -0.068)
    ax.yaxis.set_label_coords(-0.0327, 0.5)

    fig.savefig("out.png", dpi=100)


if __name__ == "__main__":
    main()
